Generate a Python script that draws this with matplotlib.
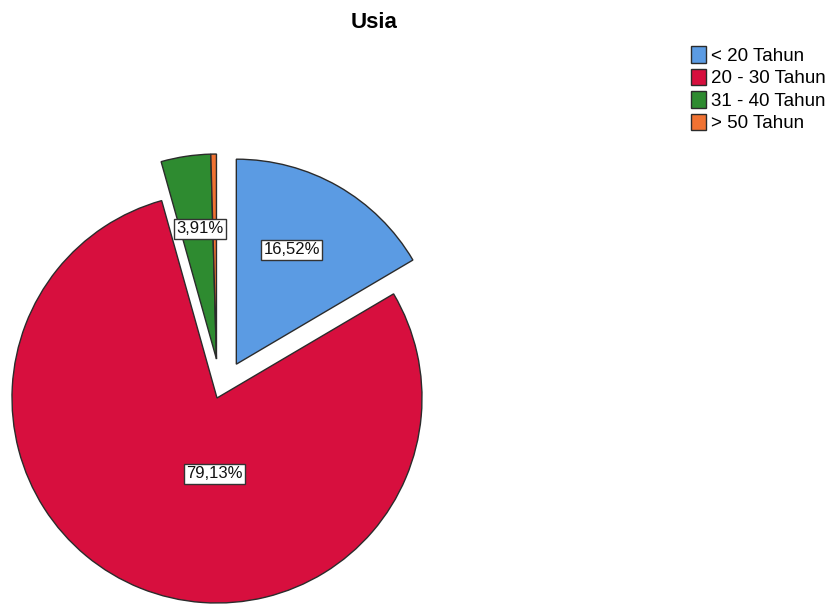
import numpy as np
import matplotlib.pyplot as plt

# age groups and their share of respondents (%)
categories = ["< 20 Tahun", "20 - 30 Tahun", "31 - 40 Tahun", "> 50 Tahun"]
percentages = [16.52, 79.13, 3.91, 0.44]
show_label = [True, True, True, False]

colors = ["#5B9BE3", "#D70F3E", "#2E8B30", "#F07232"]
explode_frac = [0.19, 0.0, 0.19, 0.19]   # as fraction of radius
# label placement relative to each wedge: fraction of radius, angle nudge (deg)
label_dist = [0.62, 0.37, 0.64, 0.6]
label_shift = [4, 20, -1.5, 0]

plt.rcParams['font.family'] = ['Liberation Sans', 'DejaVu Sans']

fig = plt.figure(figsize=(8.4, 6.04), dpi=100)
ax = fig.add_axes([0, 0, 1, 1])

radius = 205
center = (217, 604 - 398)
# matplotlib's explode is in data units, so scale by the radius
explode = [e * radius for e in explode_frac]
wedges, _ = ax.pie(percentages, colors=colors, explode=explode, startangle=90,
                   counterclock=False, radius=radius, center=center,
                   wedgeprops=dict(edgecolor="#2b2b2b", linewidth=1.0))
# the small green slice sits right next to the orange one (pulled out together)
wedges[2].set_center(wedges[3].center)

for i, w in enumerate(wedges):
    if not show_label[i]:
        continue
    theta = np.deg2rad((w.theta1 + w.theta2) / 2 + label_shift[i])
    cx, cy = w.center
    x = cx + label_dist[i] * w.r * np.cos(theta)
    y = cy + label_dist[i] * w.r * np.sin(theta)
    txt = f"{percentages[i]:.2f}%".replace(".", ",")
    ax.text(x, y, txt, fontsize=12, ha="center", va="center", color="#111111",
            bbox=dict(boxstyle="square,pad=0.15", facecolor="white",
                      edgecolor="#333333", linewidth=1.0), zorder=5)

ax.set_xlim(0, 840)
ax.set_ylim(0, 604)
ax.set_aspect("equal")
ax.axis("off")

fig.text(374 / 840, 1 - 22 / 604, "Usia", fontsize=16, fontweight="bold",
         ha="center", va="center")

fig.legend(wedges, categories, loc="upper left", bbox_to_anchor=(691 / 840, 1 - 46 / 604),
           frameon=False, fontsize=13.5, handlelength=0.8, handleheight=1.0,
           handletextpad=0.25, labelspacing=0.2, borderpad=0, borderaxespad=0)

fig.savefig("out.png", dpi=100)
